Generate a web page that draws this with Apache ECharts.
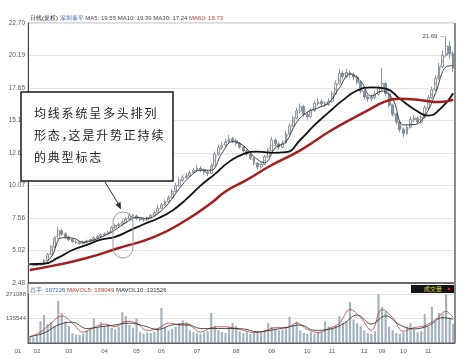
<!DOCTYPE html>
<html><head><meta charset="utf-8">
<script src="https://cdn.jsdelivr.net/npm/echarts@6/dist/echarts.min.js"></script>
<style>html,body{margin:0;padding:0;background:#fff}#c{width:469px;height:359px}</style>
</head><body><div id="c"></div>
<script>
// ---- data ----
const monthLabels = ['01','02','03','04','05','06','07','08','09','10','11','12','09','10','11'];
const monthStarts = [0,2,11,21,30,37,47,58,68,78,85,94,99,105,112];
const priceTicks = ['2.48','5.02','7.56','10.07','12.61','15.13','17.65','20.19','22.70'];
const volumeTicks = ['', '135544', '271088'];
const headerTexts = ['日线(复权)', '深圳泰平', 'MA5: 19.55', 'MA10: 19.39', 'MA30: 17.24', 'MA60: 16.73'];
const volumeHeader = ['总手: 107226', 'MAVOL5: 139049', 'MAVOL10: 131526'];
const noteLines = ['均线系统呈多头排列', '形态，这是升势正持续', '的典型标志'];
// [open, close, low, high]
const candles = [
[3.95,3.92,3.82,4.02],[3.92,3.86,3.78,3.98],[3.85,3.90,3.80,3.97],[3.90,3.95,3.84,4.05],[3.96,4.25,3.92,4.35],
[4.25,4.70,4.20,4.82],[4.72,5.30,4.65,5.42],[5.28,5.95,5.20,6.10],[5.95,6.55,5.88,6.85],[6.55,6.30,6.15,6.70],
[6.30,6.05,5.95,6.42],[6.05,5.85,5.75,6.15],[5.86,5.70,5.60,5.95],[5.70,5.62,5.50,5.80],[5.62,5.55,5.45,5.72],
[5.55,5.68,5.48,5.78],[5.68,5.75,5.60,5.85],[5.75,5.85,5.68,5.95],[5.85,6.00,5.78,6.10],[6.00,6.10,5.92,6.22],
[6.10,6.22,6.02,6.35],[6.22,6.30,6.12,6.42],[6.30,6.42,6.22,6.55],[6.42,6.80,6.38,6.92],[6.80,6.95,6.70,7.10],
[6.95,7.05,6.85,7.20],[7.05,7.20,6.95,7.35],[7.20,7.45,7.12,7.60],[7.45,7.75,7.38,7.92],[7.75,7.70,7.55,7.88],
[7.70,7.50,7.40,7.80],[7.50,7.40,7.28,7.60],[7.40,7.38,7.25,7.52],[7.38,7.55,7.30,7.65],[7.55,7.72,7.48,7.85],
[7.72,7.95,7.65,8.10],[7.95,8.30,7.90,8.55],[8.30,8.55,8.20,8.70],[8.55,8.80,8.45,8.98],[8.80,9.10,8.70,9.30],
[9.10,9.60,9.05,9.80],[9.60,10.05,9.50,10.25],[10.05,10.50,9.95,10.70],[10.50,10.70,10.35,10.90],[10.70,10.80,10.55,11.00],
[10.80,11.05,10.70,11.25],[11.05,11.25,10.95,11.45],[11.25,11.40,11.10,11.65],[11.40,11.30,11.10,11.55],[11.30,11.10,10.90,11.40],
[11.10,11.00,10.80,11.25],[11.00,11.60,10.95,11.75],[11.60,12.50,11.55,12.70],[12.50,13.00,12.40,13.25],[13.00,13.20,12.85,13.45],
[13.20,13.45,13.05,13.70],[13.45,13.70,13.30,14.00],[13.70,13.55,13.35,13.85],[13.55,13.35,13.15,13.70],[13.35,13.05,12.90,13.45],
[13.05,12.75,12.60,13.15],[12.75,12.50,12.35,12.90],[12.50,12.20,12.05,12.60],[12.20,11.80,11.65,12.30],[11.80,11.50,11.30,11.90],
[11.50,11.70,11.40,11.85],[11.70,12.30,11.65,12.45],[12.30,12.75,12.20,12.95],[12.75,13.60,12.70,13.85],[13.60,13.30,13.10,13.75],
[13.30,13.05,12.85,13.45],[13.05,13.35,12.95,13.55],[13.35,14.10,13.30,14.30],[14.10,14.70,14.00,14.90],[14.70,15.30,14.60,15.50],
[15.30,15.85,15.20,16.10],[15.85,16.20,15.70,16.45],[16.20,15.60,15.40,16.35],[15.60,15.40,15.20,15.80],[15.40,15.90,15.30,16.10],
[15.90,16.45,15.80,16.65],[16.45,16.60,16.30,16.85],[16.60,16.40,16.20,16.75],[16.40,16.35,16.15,16.60],[16.35,16.60,16.25,16.85],
[16.60,17.20,16.50,17.40],[17.20,18.00,17.10,18.25],[18.00,18.80,17.90,19.10],[18.80,18.55,18.30,19.00],[18.55,18.85,18.40,19.15],
[18.85,18.70,18.45,19.00],[18.70,18.50,18.25,18.85],[18.50,18.10,17.90,18.65],[18.10,17.40,17.20,18.20],[17.40,16.95,16.75,17.55],
[16.95,16.80,16.55,17.10],[16.80,16.90,16.60,17.15],[16.90,17.15,16.75,17.40],[17.15,17.60,17.05,17.85],[17.60,18.00,17.50,19.20],
[18.00,17.20,17.00,18.10],[17.20,16.30,16.10,17.30],[16.30,15.60,15.40,16.40],[15.60,15.00,14.80,15.70],[15.00,14.40,14.20,15.10],
[14.40,14.10,13.80,14.55],[14.10,14.60,14.00,14.80],[14.60,15.20,14.50,15.40],[15.20,15.30,15.00,15.55],[15.30,15.00,14.85,15.45],
[15.00,15.35,14.90,15.55],[15.35,16.10,15.25,16.30],[16.10,16.90,16.00,17.10],[16.90,17.50,16.80,17.75],[17.50,18.40,17.40,18.65],
[18.40,19.30,18.30,19.60],[19.30,20.20,19.20,20.55],[20.20,20.90,20.10,21.69],[20.90,20.30,19.90,21.30],[20.30,19.20,18.90,20.50]
];
const volumes = [
35000,32000,40000,120000,155000,105000,115000,95000,232000,166000,
120000,95000,55000,48000,45000,52000,70000,80000,135000,85000,
115000,95000,100000,85000,75000,90000,170000,150000,100000,85000,
135000,60000,52000,58000,55000,62000,80000,194000,85000,70000,
78000,90000,110000,125000,115000,70000,60000,55000,50000,58000,
65000,166000,95000,70000,60000,55000,90000,110000,95000,65000,
55000,60000,50000,58000,65000,60000,70000,110000,90000,80000,
70000,75000,85000,145000,100000,120000,70000,55000,50000,60000,
52000,58000,62000,120000,90000,85000,95000,150000,110000,120000,
227000,130000,110000,95000,70000,55000,50000,65000,270000,200000,
175000,90000,70000,55000,50000,60000,90000,110000,75000,60000,
65000,160000,90000,200000,120000,165000,160000,270000,140000,107226
];
// moving-average lines as [bar index, value]
const ma5 = [[0,3.92],[2,3.88],[4,4.1],[6,5.0],[8,6.25],[10,6.18],[12,5.78],[14,5.58],[16,5.72],[18,5.93],[20,6.16],[22,6.36],[24,6.88],[26,7.12],[28,7.6],[30,7.6],[32,7.39],[34,7.64],[36,8.12],[38,8.68],[40,9.35],[42,10.28],[44,10.75],[46,11.15],[48,11.35],[50,11.05],[52,12.05],[54,13.1],[56,13.58],[58,13.45],[60,12.9],[62,12.35],[64,11.65],[66,12.0],[68,13.18],[70,13.18],[72,13.72],[74,15.0],[76,16.03],[78,15.5],[80,16.18],[82,16.5],[84,16.48],[86,17.6],[88,18.68],[90,18.78],[92,18.3],[94,17.18],[96,16.85],[98,17.38],[100,17.6],[102,15.95],[104,14.7],[106,14.35],[108,15.25],[110,15.18],[112,16.5],[114,17.95],[116,19.75],[118,20.6],[119,19.55]];
const ma10 = [[0,3.92],[3,3.91],[6,4.5],[9,6.0],[12,5.98],[15,5.64],[18,5.82],[21,6.16],[24,6.62],[27,7.17],[30,7.58],[33,7.5],[36,7.88],[39,8.69],[42,9.81],[45,10.75],[48,11.25],[51,11.25],[54,12.58],[57,13.48],[60,13.17],[63,12.31],[66,11.83],[69,12.99],[72,13.46],[75,14.99],[78,15.76],[81,16.1],[84,16.49],[87,17.65],[90,18.73],[93,18.18],[96,17.01],[99,17.41],[102,16.78],[105,14.78],[108,14.8],[111,15.45],[114,17.23],[117,19.3],[119,19.39]];
const ma30 = [[0,3.95],[4,3.98],[8,4.45],[12,5.05],[16,5.45],[20,5.85],[24,6.07],[28,6.55],[32,7.05],[36,7.5],[40,8.1],[44,9.0],[48,10.05],[52,10.95],[56,11.9],[60,12.5],[64,12.7],[68,12.6],[72,12.65],[76,13.6],[80,14.75],[84,15.75],[88,16.7],[92,17.45],[96,17.7],[100,17.6],[104,16.8],[108,16.0],[112,15.5],[116,16.2],[119,17.24]];
const ma60 = [[0,3.49],[7,3.85],[16,4.42],[25,5.2],[35,6.06],[44,7.38],[51,8.7],[55,9.6],[61,10.5],[67,11.5],[76,12.8],[85,14.4],[95,15.9],[100,16.6],[104,16.8],[110,16.7],[115,16.55],[119,16.73]];
const mavol5 = [[0,35000],[3,60000],[6,110000],[9,150000],[12,110000],[15,60000],[18,85000],[21,105000],[24,90000],[27,120000],[30,110000],[33,70000],[36,80000],[39,110000],[42,100000],[45,95000],[48,60000],[51,85000],[54,90000],[57,85000],[60,70000],[63,58000],[66,65000],[69,85000],[72,85000],[75,110000],[78,75000],[81,58000],[84,80000],[87,110000],[90,185000],[93,140000],[96,70000],[99,185000],[102,140000],[105,65000],[108,85000],[111,95000],[114,130000],[117,175000],[119,139049]];
const mavol10 = [[0,35000],[4,55000],[8,100000],[12,115000],[16,80000],[20,90000],[24,100000],[28,110000],[32,95000],[36,75000],[40,100000],[44,105000],[48,80000],[52,80000],[56,80000],[60,78000],[64,62000],[68,72000],[72,85000],[76,100000],[80,70000],[84,75000],[88,105000],[92,155000],[96,105000],[100,150000],[104,100000],[108,78000],[112,95000],[116,140000],[119,131526]];

// ---- chart ----
const categories = candles.map((_, i) => 'd' + i);
const labelAt = {};
monthStarts.forEach((s, k) => { labelAt[s] = monthLabels[k]; });
const FONT = 'Liberation Sans';
const chart = echarts.init(document.getElementById('c'), null, {renderer: 'canvas'});

const noteGraphics = [];
const lineY = [113, 135, 157];
noteLines.forEach((line, li) => {
  let x = 34;
  for (const ch of line) {
    noteGraphics.push({type: 'text', z: 101, silent: true, x: x, y: lineY[li],
      style: {text: ch, fill: '#222', font: '12px "Noto Sans CJK SC"', textVerticalAlign: 'middle'}});
    x += (ch === '，') ? 7 : 13.8;
  }
});

const option = {
  animation: false,
  backgroundColor: '#fff',
  grid: [
    {left: 28, right: 14, top: 23, height: 260, show: true, borderColor: '#b5b5b5', borderWidth: 1},
    {left: 28, right: 14, top: 294, height: 49}
  ],
  xAxis: [
    {type: 'category', gridIndex: 0, data: categories, boundaryGap: true,
     axisLine: {show: false}, axisTick: {show: false}, axisLabel: {show: false}, splitLine: {show: false}},
    {type: 'category', gridIndex: 1, data: categories, boundaryGap: true,
     axisLine: {lineStyle: {color: '#555'}}, axisTick: {show: false},
     axisLabel: {interval: (i) => labelAt[i] !== undefined,
                 formatter: (v, i) => i === 0 ? '{first|' + labelAt[i] + '}' : (labelAt[i] || ''),
                 rich: {first: {fontSize: 6, color: '#555', fontFamily: FONT, padding: [0, 24, 0, 0]}},
                 fontSize: 6, color: '#555', margin: 5, fontFamily: FONT}, splitLine: {show: false}}
  ],
  yAxis: [
    {type: 'value', gridIndex: 0, min: 2.48, max: 22.70, interval: 2.5275,
     axisLine: {show: true, lineStyle: {color: '#444'}}, axisTick: {show: false},
     axisLabel: {fontSize: 6.5, color: '#555', margin: 3, fontFamily: FONT,
                 formatter: v => priceTicks[Math.round((v - 2.48) / 2.5275)] || ''},
     splitLine: {lineStyle: {color: '#e3e3e3', width: 1}}},
    {type: 'value', gridIndex: 1, min: 0, max: 271088, interval: 135544,
     axisLine: {show: true, lineStyle: {color: '#444'}}, axisTick: {show: false},
     axisLabel: {fontSize: 6, color: '#555', margin: 2, fontFamily: FONT,
                 formatter: v => volumeTicks[Math.round(v / 135544)] || ''},
     splitLine: {lineStyle: {color: '#e3e3e3', width: 1}}}
  ],
  series: [
    {type: 'candlestick', xAxisIndex: 0, yAxisIndex: 0, data: candles, barWidth: 2.4,
     itemStyle: {color: '#ffffff', color0: '#7f90a0', borderColor: '#6f8090', borderColor0: '#6f8090', borderWidth: 0.8},
     markPoint: {symbol: 'circle', symbolSize: 0, data: [{type: 'max', valueDim: 'highest'}],
       label: {show: true, position: 'left', distance: 1, fontSize: 6, color: '#444', fontFamily: FONT,
               formatter: p => Number(p.value).toFixed(2) + ' \u2192'}}},
    {type: 'line', name: 'MA5', xAxisIndex: 0, yAxisIndex: 0, data: ma5, smooth: 0.3, symbol: 'none',
     lineStyle: {width: 0.8, color: '#8f9aa6'}},
    {type: 'line', name: 'MA10', xAxisIndex: 0, yAxisIndex: 0, data: ma10, smooth: 0.4, symbol: 'none',
     lineStyle: {width: 0.9, color: '#2b2b2b'}},
    {type: 'line', name: 'MA30', xAxisIndex: 0, yAxisIndex: 0, data: ma30, smooth: 0.5, symbol: 'none',
     lineStyle: {width: 1.8, color: '#111'}},
    {type: 'line', name: 'MA60', xAxisIndex: 0, yAxisIndex: 0, data: ma60, smooth: 0.5, symbol: 'none',
     lineStyle: {width: 2.5, color: '#a51d1d'}},
    {type: 'bar', xAxisIndex: 1, yAxisIndex: 1, data: volumes, barWidth: 2.2,
     itemStyle: {color: '#a3b4c1'}},
    {type: 'line', xAxisIndex: 1, yAxisIndex: 1, data: mavol5, smooth: 0.4, symbol: 'none',
     lineStyle: {width: 0.8, color: '#c0392b'}},
    {type: 'line', xAxisIndex: 1, yAxisIndex: 1, data: mavol10, smooth: 0.4, symbol: 'none',
     lineStyle: {width: 0.8, color: '#222'}}
  ],
  graphic: [
    {type: 'text', silent: true, x: 30, y: 18, z: 50,
     style: {text: '{a|' + headerTexts[0] + '} {b|' + headerTexts[1] + '} {c|' + headerTexts.slice(2, 5).join(' ') + '} {r|' + headerTexts[5] + '}',
       textVerticalAlign: 'middle', font: '6px "Liberation Sans"',
       rich: {a: {fill: '#223', fontSize: 6}, b: {fill: '#2a5caa', fontSize: 6}, c: {fill: '#445', fontSize: 6}, r: {fill: '#c0392b', fontSize: 6}}}},
    {type: 'text', silent: true, x: 30, y: 290, z: 50,
     style: {text: '{a|' + volumeHeader[0] + '} {r|' + volumeHeader[1] + '} {c|' + volumeHeader[2] + '}',
       textVerticalAlign: 'middle', font: '6px "Liberation Sans"',
       rich: {a: {fill: '#2a5caa', fontSize: 6}, r: {fill: '#c0392b', fontSize: 6}, c: {fill: '#333', fontSize: 6}}}},
    {type: 'rect', silent: true, z: 40, shape: {x: 28, y: 283, width: 427, height: 60},
     style: {fill: 'none', stroke: '#666', lineWidth: 1}},
    {type: 'line', silent: true, z: 41, shape: {x1: 28, y1: 283, x2: 455, y2: 283}, style: {stroke: '#333', lineWidth: 1.2}},
    {type: 'line', silent: true, z: 41, shape: {x1: 455, y1: 23, x2: 455, y2: 343}, style: {stroke: '#8a8a8a', lineWidth: 2}},
    {type: 'rect', silent: true, z: 60, shape: {x: 411, y: 285, width: 43, height: 8}, style: {fill: '#151515'}},
    {type: 'text', silent: true, z: 61, x: 424, y: 289, style: {text: '成交量', fill: '#e6d23a', font: '6px "Noto Sans CJK SC"', textVerticalAlign: 'middle'}},
    {type: 'circle', silent: true, z: 61, shape: {cx: 449, cy: 289, r: 1.3}, style: {fill: '#e02020'}},
    {type: 'rect', silent: true, z: 100, shape: {x: 21, y: 92, width: 152, height: 89},
     style: {fill: '#fff', stroke: '#1a1a1a', lineWidth: 1.5}},
    ...noteGraphics,
    {type: 'line', silent: true, z: 100, shape: {x1: 105, y1: 182, x2: 119, y2: 205}, style: {stroke: '#333', lineWidth: 1}},
    {type: 'polygon', silent: true, z: 100, shape: {points: [[121, 209.5], [115.4, 204.8], [120.6, 201.8]]}, style: {fill: '#333'}},
    {type: 'rect', silent: true, z: 99, shape: {x: 113, y: 212, width: 20, height: 46, r: 10},
     style: {fill: 'none', stroke: '#9a9a9a', lineWidth: 1}}
  ]
};
chart.setOption(option);
</script>
</body></html>
